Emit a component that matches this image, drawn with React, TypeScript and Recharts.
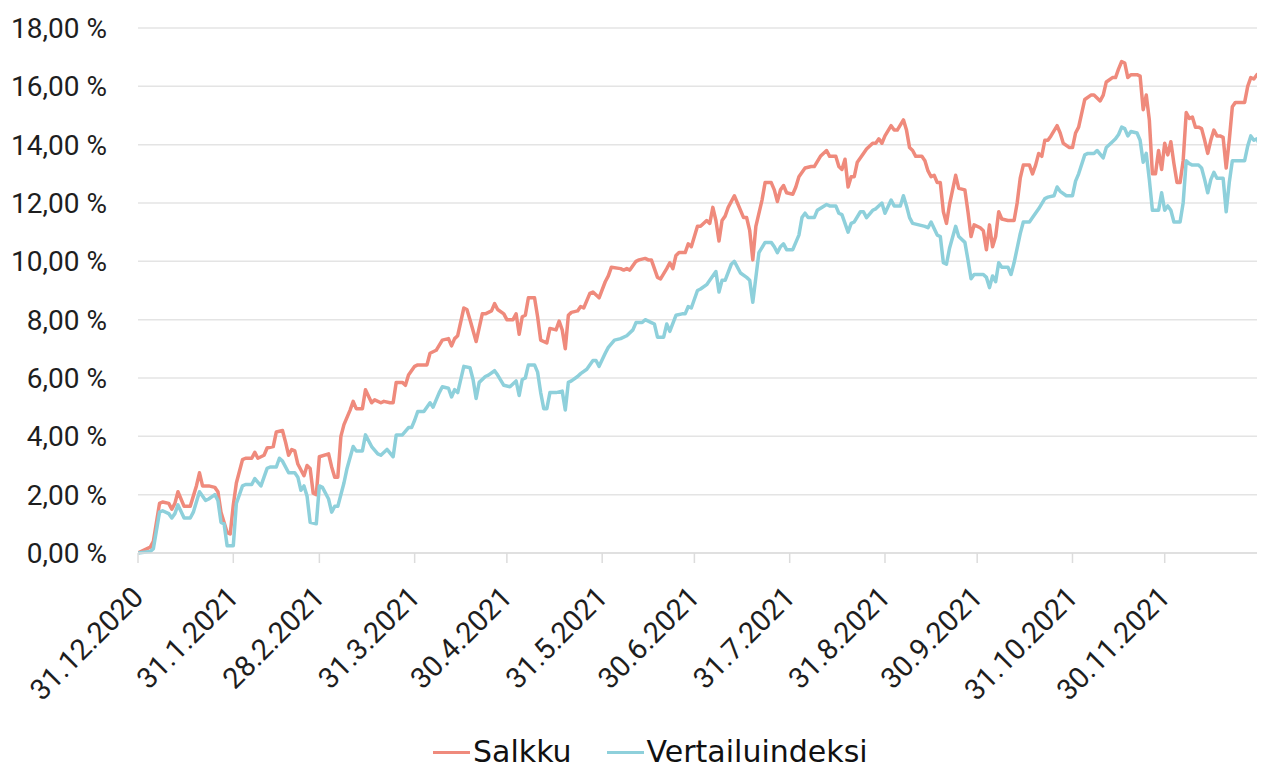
import React from 'react';
import { LineChart, Line, XAxis, YAxis, CartesianGrid, Legend } from 'recharts';

// Days since 31.12.2020 of the month-end ticks
const monthEndDays = [0, 31, 59, 90, 120, 151, 181, 212, 243, 273, 304, 334, 365];
const monthEndLabels = [
  '31.12.2020', '31.1.2021', '28.2.2021', '31.3.2021', '30.4.2021', '31.5.2021',
  '30.6.2021', '31.7.2021', '31.8.2021', '30.9.2021', '31.10.2021', '30.11.2021', '',
];
const yTicks = [0, 2, 4, 6, 8, 10, 12, 14, 16, 18];
const seriesNames = ['Salkku', 'Vertailuindeksi'];
const seriesColors = ['#EF8A7C', '#8ED0DB'];

const salkkuDays = [0,4,5,7,8,10,11,12,13,15,17,18,19,20,21,23,25,26,27,29,30,31,32,34,35,37,38,39,41,42,44,45,47,48,49,50,51,52,54,55,56,57,58,59,62,63,64,65,66,67,69,70,71,73,74,76,77,79,80,82,83,84,86,87,88,90,91,94,95,97,99,101,102,103,104,106,107,108,110,112,113,115,116,117,119,120,122,123,124,125,126,127,129,130,131,133,134,136,137,138,139,140,141,143,144,145,147,148,150,152,153,154,157,158,159,160,162,163,165,166,167,169,170,172,173,174,175,176,178,179,180,182,183,185,186,187,188,189,190,191,192,194,195,197,198,199,200,201,203,204,206,207,208,209,210,211,213,214,215,217,219,220,222,224,225,227,228,229,230,231,232,233,234,236,237,239,240,241,242,243,245,246,247,249,250,251,252,253,255,256,257,258,259,260,261,262,263,264,266,267,269,270,271,272,274,275,276,277,278,279,280,281,283,285,286,287,288,290,291,292,293,294,295,296,297,299,300,301,303,304,305,306,308,310,311,313,314,315,317,318,319,320,321,322,323,325,326,327,328,329,330,331,332,333,334,335,336,337,338,339,340,341,342,343,344,345,346,347,348,349,350,351,352,353,354,355,356,357,360,361,362,363,364,365];
const salkkuValues = [0,0.2,0.4,1.7,1.75,1.7,1.5,1.7,2.1,1.6,1.6,1.95,2.3,2.75,2.3,2.3,2.25,2.1,1.4,0.7,0.65,1.65,2.4,3.2,3.25,3.25,3.45,3.25,3.35,3.6,3.65,4.15,4.2,3.8,3.35,3.55,3.5,3.05,2.65,3.0,2.9,2.05,2.0,3.3,3.4,2.95,2.6,2.6,4.0,4.4,4.9,5.2,4.95,4.95,5.6,5.15,5.25,5.15,5.2,5.15,5.15,5.85,5.85,5.75,6.1,6.4,6.45,6.45,6.85,6.95,7.3,7.35,7.1,7.35,7.45,8.4,8.35,8.0,7.25,8.2,8.2,8.3,8.55,8.35,8.2,8.0,8.0,8.2,7.5,8.1,8.15,8.75,8.75,8.1,7.3,7.2,7.7,7.65,7.95,7.65,7.0,8.15,8.25,8.3,8.45,8.4,8.9,8.95,8.75,9.3,9.5,9.8,9.75,9.7,9.75,9.7,10.0,10.05,10.1,10.05,10.05,9.45,9.4,9.75,9.95,9.75,10.2,10.3,10.3,10.6,10.5,11.2,11.2,11.4,11.3,11.85,11.4,10.7,11.4,11.55,11.85,12.25,12.0,11.5,11.5,11.05,10.05,11.2,12.1,12.7,12.7,12.45,12.05,12.45,12.6,12.35,12.3,12.55,12.9,13.2,13.25,13.25,13.6,13.8,13.6,13.6,13.25,13.15,13.5,12.55,12.9,12.9,13.4,13.7,13.85,14.05,14.05,14.2,14.05,14.3,14.65,14.5,14.5,14.85,14.5,13.9,13.8,13.6,13.6,13.45,13.1,12.9,12.95,12.7,12.7,11.7,11.3,11.95,12.95,12.5,12.45,11.7,10.85,11.25,11.15,11.05,10.4,11.25,10.5,10.85,11.7,11.45,11.4,11.4,12.0,12.85,13.3,13.3,13.0,13.3,13.7,13.6,14.15,14.15,14.3,14.65,14.4,14.05,13.9,13.9,14.4,14.6,15.55,15.7,15.7,15.5,15.7,16.15,16.3,16.3,16.6,16.85,16.8,16.3,16.4,16.4,16.35,15.2,15.7,14.85,13.0,13.0,13.8,13.15,14.05,13.65,14.1,13.35,12.7,12.7,13.45,15.1,14.9,14.95,14.6,14.6,14.55,14.15,13.7,14.15,14.5,14.3,14.3,14.25,13.2,14.15,15.3,15.45,15.45,16.0,16.3,16.25,16.4,16.25];

const indeksiDays = [0,4,5,7,8,10,11,12,13,15,17,18,20,22,23,25,26,27,28,29,31,32,34,35,37,38,40,42,43,45,46,47,49,51,52,53,54,55,56,58,59,60,62,63,64,65,67,68,70,71,73,74,76,78,79,81,83,84,86,88,89,90,91,93,95,96,98,99,101,102,103,104,105,106,108,109,110,111,113,114,116,117,119,121,123,124,125,126,127,129,130,131,132,133,134,136,138,139,140,141,143,144,146,148,149,150,152,153,155,157,159,161,162,164,165,167,168,169,171,172,173,175,177,178,179,180,182,183,185,186,188,189,190,191,193,194,196,198,199,200,201,202,204,206,207,208,209,210,211,213,215,216,217,218,220,221,224,225,227,228,229,231,232,233,235,236,237,239,240,242,243,245,246,248,249,250,251,252,254,256,257,258,260,261,262,263,264,266,267,269,270,271,272,275,276,277,278,279,280,281,283,284,285,287,288,290,291,293,295,296,298,299,300,302,304,305,306,308,309,311,312,314,315,317,318,319,320,321,322,323,325,326,327,328,329,330,332,333,334,335,336,337,339,340,341,342,343,345,346,347,348,349,350,351,353,354,355,356,358,360,361,362,363,364,365];
const indeksiValues = [0,0.05,0.15,1.4,1.45,1.35,1.2,1.35,1.65,1.2,1.2,1.4,2.1,1.8,1.85,2.0,1.8,1.05,1.0,0.25,0.25,1.7,2.3,2.35,2.35,2.55,2.3,2.9,2.95,2.95,3.25,3.15,2.75,2.75,2.6,2.15,2.3,1.95,1.05,1.0,2.3,2.25,1.85,1.4,1.6,1.6,2.4,2.9,3.65,3.5,3.5,4.05,3.65,3.4,3.35,3.55,3.3,4.05,4.05,4.3,4.3,4.55,4.85,4.85,5.15,5.0,5.5,5.7,5.65,5.35,5.6,5.5,5.95,6.4,6.35,5.95,5.3,5.85,6.05,6.1,6.25,6.1,5.75,5.7,5.9,5.4,5.95,6.0,6.45,6.45,6.2,5.5,4.95,4.95,5.5,5.5,5.55,4.9,5.85,5.9,6.05,6.15,6.3,6.6,6.6,6.4,6.85,7.05,7.3,7.35,7.45,7.65,7.9,7.9,8.0,7.9,7.85,7.4,7.4,7.85,7.6,8.15,8.2,8.2,8.45,8.4,9.0,9.05,9.2,9.35,9.65,8.95,9.35,9.35,9.9,10.0,9.6,9.45,9.35,8.6,9.45,10.3,10.65,10.65,10.5,10.3,10.5,10.6,10.4,10.4,10.9,11.5,11.65,11.5,11.5,11.75,11.95,11.9,11.9,11.65,11.6,11.0,11.3,11.35,11.7,11.7,11.5,11.75,11.8,12.0,11.65,12.1,11.9,11.9,12.25,11.9,11.5,11.3,11.25,11.2,11.15,11.35,10.9,10.85,9.95,9.9,10.45,11.2,10.85,10.65,10.05,9.4,9.55,9.55,9.45,9.1,9.5,9.3,9.95,9.8,9.8,9.55,9.95,10.95,11.35,11.35,11.5,11.8,12.15,12.2,12.25,12.55,12.4,12.25,12.25,12.75,13.0,13.65,13.7,13.7,13.8,13.55,13.9,14.1,14.2,14.35,14.6,14.55,14.3,14.45,14.4,14.15,13.4,13.7,12.8,11.75,11.75,12.35,11.75,11.9,11.75,11.35,11.35,12.0,13.45,13.35,13.3,13.3,13.2,12.8,12.35,12.8,13.05,12.85,12.85,11.7,12.7,13.45,13.45,13.45,13.95,14.3,14.15,14.2,13.95];

const salkkuData = salkkuDays.map((d, i) => ({ day: d, value: salkkuValues[i] }));
const indeksiData = indeksiDays.map((d, i) => ({ day: d, value: indeksiValues[i] }));

const formatPct = (v: number) => `${v.toFixed(2).replace('.', ',')} %`;

const XTick = (props: any) => {
  const { x, y, payload } = props;
  const idx = monthEndDays.indexOf(payload.value);
  const label = idx >= 0 ? monthEndLabels[idx] : '';
  return (
    <g transform={`translate(${x + 7},${y + 34})`}>
      <text
        x={0}
        y={0}
        textAnchor="end"
        transform="rotate(-45)"
        fontFamily="Roboto"
        fontSize={29}
        fill="#1e1e1e"
      >
        {label}
      </text>
    </g>
  );
};

const renderLegend = () => (
  <div
    style={{
      display: 'flex',
      alignItems: 'center',
      fontFamily: '"DejaVu Sans"',
      fontSize: 30,
      color: '#111',
      whiteSpace: 'nowrap',
    }}
  >
    {seriesNames.map((name, i) => (
      <div key={name} style={{ display: 'flex', alignItems: 'center', marginRight: i === 0 ? 35 : 0 }}>
        <div style={{ width: 37, height: 3, background: seriesColors[i], marginRight: 3, marginTop: 2 }} />
        <span>{name}</span>
      </div>
    ))}
  </div>
);

export default function App() {
  return (
    <div style={{ marginLeft: -8, marginTop: -8, width: 1265, height: 767, background: '#fff' }}>
      <LineChart
        width={1265}
        height={767}
        margin={{ top: 28, right: 5, left: 0, bottom: 0 }}
      >
        <CartesianGrid vertical={false} stroke="#e4e4e4" strokeWidth={1.5} />
        <XAxis
          type="number"
          dataKey="day"
          domain={[0, 365]}
          ticks={monthEndDays}
          interval={0}
          height={214}
          axisLine={{ stroke: '#dcdcdc', strokeWidth: 1.5 }}
          tickLine={{ stroke: '#dcdcdc', strokeWidth: 1.5 }}
          tickSize={10}
          tick={<XTick />}
          allowDataOverflow
        />
        <YAxis
          type="number"
          domain={[0, 18]}
          ticks={yTicks}
          interval={0}
          width={138}
          axisLine={false}
          tickLine={false}
          tickSize={0}
          tickMargin={31}
          tickFormatter={formatPct}
          tick={{ fontFamily: 'Roboto', fontSize: 28, fill: '#1e1e1e' }}
        />
        <Legend
          layout="horizontal"
          verticalAlign="middle"
          align="center"
          content={renderLegend}
          wrapperStyle={{ left: 433, top: 734, width: 'auto', height: 'auto' }}
        />
        <Line
          data={salkkuData}
          dataKey="value"
          name={seriesNames[0]}
          type="linear"
          stroke={seriesColors[0]}
          strokeWidth={3.5}
          strokeLinejoin="round"
          dot={false}
          activeDot={false}
          isAnimationActive={false}
        />
        <Line
          data={indeksiData}
          dataKey="value"
          name={seriesNames[1]}
          type="linear"
          stroke={seriesColors[1]}
          strokeWidth={3.5}
          strokeLinejoin="round"
          dot={false}
          activeDot={false}
          isAnimationActive={false}
        />
      </LineChart>
    </div>
  );
}
